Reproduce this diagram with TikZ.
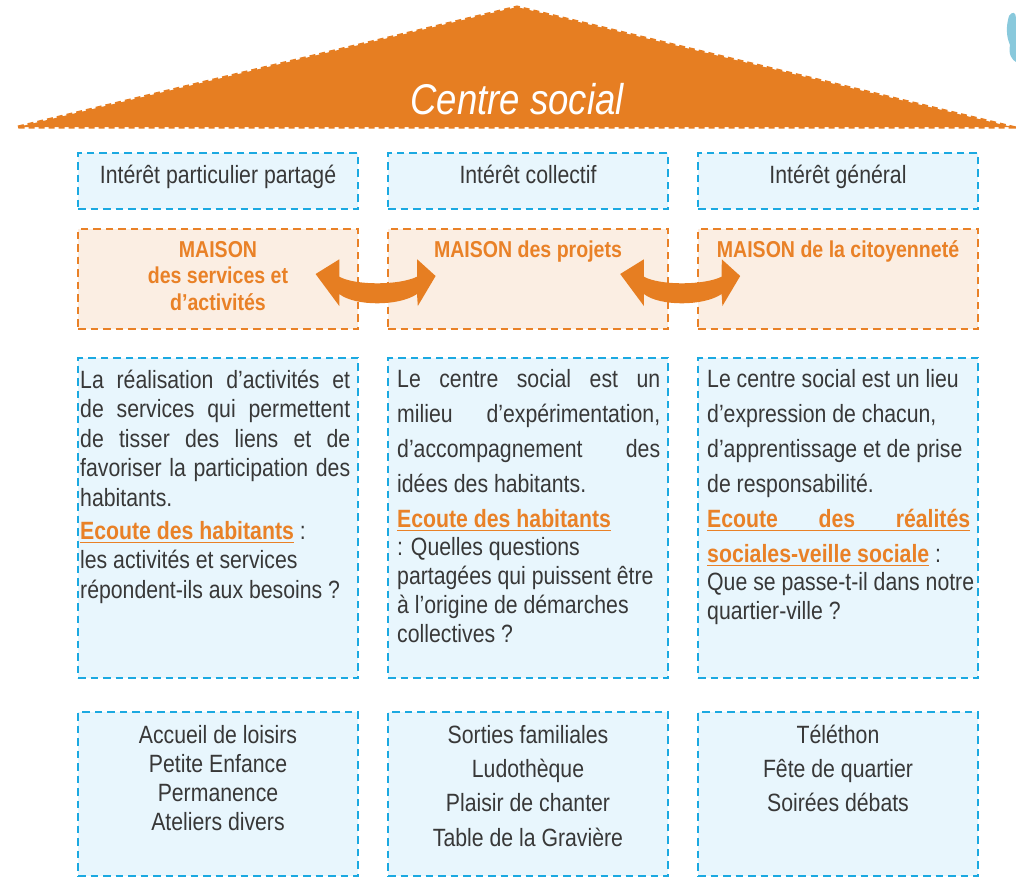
\documentclass[tikz,border=0pt]{standalone}
\usepackage{fontspec}
\setmainfont{Liberation Sans}[FakeStretch=0.85]
\definecolor{roofC}{HTML}{E67E22}
\definecolor{orT}{HTML}{E98127}
\definecolor{orFill}{HTML}{FBEEE3}
\definecolor{blB}{HTML}{1BA9E1}
\definecolor{blFill}{HTML}{E8F6FD}
\definecolor{txt}{HTML}{383838}
\definecolor{logoC}{HTML}{3AA5C5}
\newcommand\myul[1]{\leavevmode\setbox0=\hbox{#1}\rlap{\rule[-4pt]{\wd0}{1.5pt}}\box0}
\newcommand\ecoute[1]{\leavevmode{\color{orT}\bfseries\myul{#1}}}
\newcommand\jl[2]{\makebox[#1][s]{\spaceskip=0pt\xspaceskip=0pt #2}}
\newcommand\natsp{\spaceskip=0pt\xspaceskip=0pt\relax}
\begin{document}
\begin{tikzpicture}[x=1pt,y=-1pt,
  bluebox/.style={draw=blB, fill=blFill, line width=2.6pt, dash pattern=on 7.5pt off 5pt, inner sep=0pt, outer sep=0pt, anchor=north west},
  orbox/.style={draw=orT, fill=orFill, line width=2.6pt, dash pattern=on 7.5pt off 5pt, inner sep=0pt, outer sep=0pt, anchor=north west},
  lbl/.style={text=txt, inner sep=0pt, font=\fontsize{25}{29}\selectfont},
  maison/.style={text=orT, inner sep=0pt, font=\bfseries\fontsize{23}{26.5}\selectfont},
  bodytxt/.style={text=txt, inner sep=0pt, anchor=north west, text width=320pt, align=left},
  dblarr/.pic={
    \fill[roofC] (-62.4,-6) coordinate (-tipL) -- (-38.7,-20.7) -- (-38.7,-3.3)
      .. controls (-23,5.5) and (21,5.5) .. (39,-3.3) -- (39.2,-20.7)
      -- (57.6,-4) coordinate (-tipR) -- (39.8,26) -- (39,14)
      .. controls (21,26.4) and (-23,26.4) .. (-38.7,14) -- (-38.7,26) -- cycle;
  },
]
\useasboundingbox (0,0) rectangle (1016,878);

% roof
\coordinate (rl) at (18,127);
\coordinate (rt) at (517,7);
\coordinate (rr) at (1012,127);
\fill[roofC] (rl) -- (rt) -- (rr) -- cycle;
\draw[roofC, line width=3pt, dash pattern=on 6pt off 4pt] (rl) -- (rt) -- (rr) -- cycle;
\node[text=white, inner sep=0pt, anchor=base, font=\itshape\fontsize{43}{43}\selectfont] (roofT) at (517,114) {Centre social};

% logo fragment
\fill[logoC, opacity=0.6] (1009,16) .. controls (1012,11) and (1016,12) .. (1016,18) -- (1016,62) .. controls (1012,60) and (1008,54) .. (1010,45) .. controls (1006,36) and (1006,26) .. cycle;

% row 1
\node[bluebox, minimum width=280pt, minimum height=56pt] (i1) at (78,153) {};
\node[bluebox, minimum width=280pt, minimum height=56pt] (i2) at (388,153) {};
\node[bluebox, minimum width=280pt, minimum height=56pt] (i3) at (698,153) {};
\node[lbl, anchor=base] (ti1) at (218,183) {Intérêt particulier partagé};
\node[lbl, anchor=base] (ti2) at (528,183) {Intérêt collectif};
\node[lbl, anchor=base] (ti3) at (838,183) {Intérêt général};

% row 2
\node[orbox, minimum width=280pt, minimum height=100pt] (m1) at (78,229) {};
\node[orbox, minimum width=280pt, minimum height=100pt] (m2) at (388,229) {};
\node[orbox, minimum width=280pt, minimum height=100pt] (m3) at (698,229) {};
\node[maison, anchor=north, align=center] (tm1) at (218,237) {\rule{0pt}{20pt}MAISON\\des services et\\d’activités};
\node[maison, anchor=base] (tm2) at (528,257) {MAISON des projets};
\node[maison, anchor=base] (tm3) at (838,257) {MAISON de la citoyenneté};

% row 3
\node[bluebox, minimum width=280pt, minimum height=320pt] (d1) at (78,358) {};
\node[bluebox, minimum width=280pt, minimum height=320pt] (d2) at (388,358) {};
\node[bluebox, minimum width=280pt, minimum height=320pt] (d3) at (698,358) {};
\node[bodytxt, font={\setlength\parindent{0pt}\fontsize{25}{29.5}\selectfont}] (td1) at (80,366) {\natsp
\rule{0pt}{22pt}\jl{270pt}{La réalisation d’activités et}\\
\jl{270pt}{de services qui permettent}\\
\jl{270pt}{de tisser des liens et de}\\
\jl{270pt}{favoriser la participation des}\\
habitants.\\[3.5pt]
\ecoute{Ecoute des habitants} :\\
les activités et services\\
répondent-ils aux besoins~?};
\node[bodytxt, font={\setlength\parindent{0pt}\fontsize{25}{28.75}\selectfont}] (td2) at (397,365) {\natsp
\rule{0pt}{22pt}\jl{263pt}{Le centre social est un}\\[6.25pt]
\jl{263pt}{milieu d’expérimentation,}\\[6.25pt]
\jl{263pt}{d’accompagnement des}\\[6.25pt]
idées des habitants.\\[6.25pt]
\ecoute{Ecoute des habitants}\\
: Quelles questions\\
partagées qui puissent être\\
à l’origine de démarches\\
collectives~?};
\node[bodytxt, font={\setlength\parindent{0pt}\fontsize{25}{28.5}\selectfont}] (td3) at (707,365) {\natsp
\rule{0pt}{22pt}Le centre social est un lieu\\[6.5pt]
d’expression de chacun,\\[6.5pt]
d’apprentissage et de prise\\[6.5pt]
de responsabilité.\\[6.5pt]
\ecoute{\jl{263pt}{Ecoute des réalités}}\\[6.5pt]
\ecoute{sociales-veille sociale} :\\
Que se passe-t-il dans notre\\
quartier-ville~?};

% row 4
\node[bluebox, minimum width=280pt, minimum height=164pt] (e1) at (78,712) {};
\node[bluebox, minimum width=280pt, minimum height=164pt] (e2) at (388,712) {};
\node[bluebox, minimum width=280pt, minimum height=164pt] (e3) at (698,712) {};
\node[lbl, anchor=north, align=center] (te1) at (218,721) {\rule{0pt}{22pt}Accueil de loisirs\\Petite Enfance\\Permanence\\Ateliers divers};
\node[lbl, anchor=north, align=center, font=\fontsize{25}{34.3}\selectfont] (te2) at (528,721) {\rule{0pt}{22pt}Sorties familiales\\Ludothèque\\Plaisir de chanter\\Table de la Gravière};
\node[lbl, anchor=north, align=center, font=\fontsize{25}{34.3}\selectfont] (te3) at (838,721) {\rule{0pt}{22pt}Téléthon\\Fête de quartier\\Soirées débats};

% double arrows between the MAISON boxes
\pic (arrA) at (378,280) {dblarr};
\pic (arrB) at (682.6,280) {dblarr};
\end{tikzpicture}
\end{document}
